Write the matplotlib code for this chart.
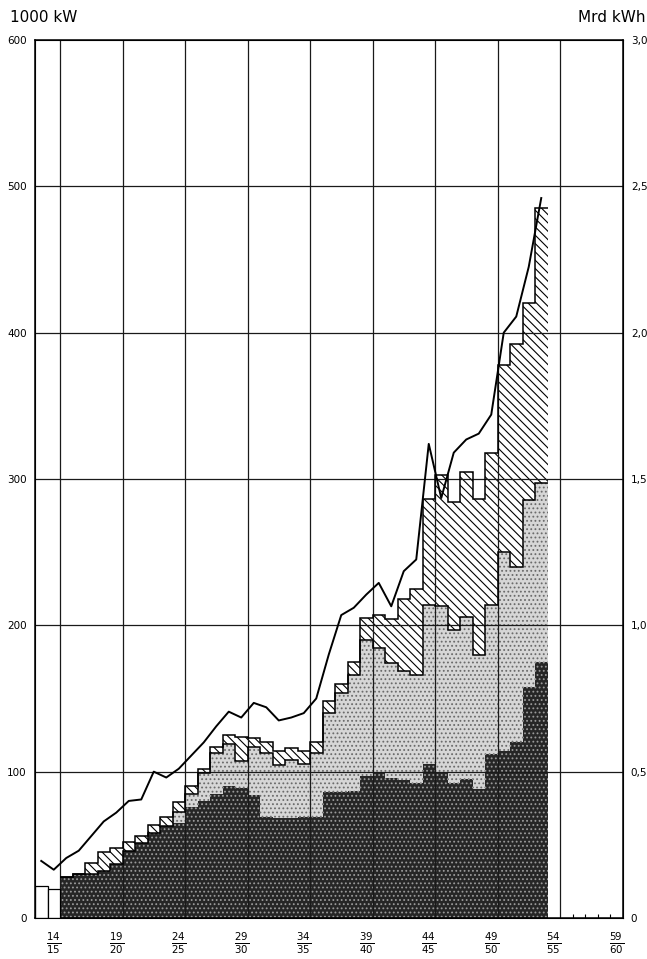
import matplotlib

matplotlib.use("Agg")
import matplotlib.pyplot as plt
import numpy as np

# installed capacity (1000 kW), cumulative tops of the three layers, per year 1915/16 .. 1953/54
years = np.arange(1915, 1954)
dark_top = [28, 30, 30, 32, 37, 46, 51, 58, 63, 65, 76, 80, 85, 90, 89, 84, 69, 68, 68, 69,
            69, 86, 86, 87, 97, 99, 96, 94, 92, 105, 99, 92, 95, 88, 112, 114, 120, 158, 175]
light_top = [28, 30, 30, 32, 37, 46, 51, 58, 63, 72.5, 85, 99, 112.5, 119, 107, 117, 112.5, 104.5,
             108, 105.5, 112.5, 140, 153.5, 166, 190, 184.5, 174.5, 168.5, 166, 214, 213, 197, 206,
             180, 214, 250, 240, 285.5, 297]
total_top = [28, 30, 37.5, 45, 48, 52, 56, 63.5, 69, 79, 90, 102, 117, 125, 124, 123, 120, 114,
             116, 114, 120, 148, 160, 175, 205, 207, 204, 218, 225, 286, 303, 284, 305, 286, 318,
             378, 392, 420, 485]

# first two years, not split up
early_years = [1913, 1914]
early_total = [22, 20]

# generation (Mrd kWh), 1913/14 .. 1953/54
line_years = np.arange(1913, 1954)
line_mrd_kwh = [0.195, 0.165, 0.205, 0.23, 0.28, 0.33, 0.36, 0.40, 0.405, 0.50, 0.48, 0.51,
                0.555, 0.60, 0.655, 0.705, 0.685, 0.735, 0.72, 0.675, 0.685, 0.70, 0.75, 0.90,
                1.035, 1.06, 1.105, 1.145, 1.065, 1.185, 1.225, 1.62, 1.435, 1.59, 1.635, 1.655,
                1.72, 2.00, 2.055, 2.225, 2.46]

x_labels = [(14, 15), (19, 20), (24, 25), (29, 30), (34, 35), (39, 40), (44, 45), (49, 50),
            (54, 55), (59, 60)]
left_ticks = [0, 100, 200, 300, 400, 500, 600]
right_ticks = [0, 0.5, 1.0, 1.5, 2.0, 2.5, 3.0]

plt.rcParams["font.family"] = "DejaVu Sans"
plt.rcParams["mathtext.fontset"] = "dejavusans"
plt.rcParams["hatch.linewidth"] = 0.8

W, H = 647, 959
fig = plt.figure(figsize=(W / 100, H / 100), dpi=100)
ax = fig.add_axes([35 / W, 1 - 918 / H, (622.5 - 35) / W, (918 - 40) / H])

edges = np.append(years, years[-1] + 1)


def step(v):
    return np.append(v, v[-1])


ax.fill_between(edges, 0, step(dark_top), step="post", facecolor="#262626",
                edgecolor="#9a9a9a", hatch="....", linewidth=0, zorder=1)
ax.fill_between(edges, step(dark_top), step(light_top), step="post", facecolor="#d6d6d6",
                edgecolor="#6a6a6a", hatch="....", linewidth=0, zorder=1)
ax.fill_between(edges, step(light_top), step(total_top), step="post", facecolor="white",
                edgecolor="black", hatch="\\\\\\\\", linewidth=0, zorder=1)
ax.stairs(total_top, edges, baseline=None, color="black", lw=1.1, zorder=3)
ax.stairs(light_top, edges, baseline=None, color="black", lw=1.1, zorder=3)

ax.bar(early_years, early_total, width=1, align="edge", facecolor="white",
       edgecolor="black", lw=0.9, zorder=3)

for x in range(1915, 1960, 5):
    ax.axvline(x, color="#1a1a1a", lw=0.9, zorder=2)
for y in left_ticks[1:-1]:
    ax.axhline(y, color="#1a1a1a", lw=0.9, zorder=2)

ax.set_xlim(1913, 1960)
ax.set_ylim(0, 600)
ax.set_xticks([a + 1900.5 for a, _ in x_labels])
ax.set_xticklabels([rf"$\frac{{{a}}}{{{b}}}$" for a, b in x_labels], fontsize=10.5)
ax.set_xticks([1956, 1957, 1958, 1959], minor=True)
ax.tick_params(axis="x", which="major", length=0, pad=9)
ax.tick_params(axis="x", which="minor", direction="in", length=3, width=0.8)
ax.set_yticks(left_ticks)
ax.set_yticklabels([str(t) for t in left_ticks], fontsize=7.5)
ax.tick_params(axis="y", length=0, pad=6)
for s in ax.spines.values():
    s.set_linewidth(1.1)

ax2 = ax.twinx()
ax2.plot(line_years + 0.5, line_mrd_kwh, color="black", lw=1.4, zorder=4)
ax2.set_ylim(0, 3)
ax2.set_yticks(right_ticks)
ax2.set_yticklabels([f"{t:.1f}".replace(".", ",") if t else "0" for t in right_ticks],
                    fontsize=7.5)
ax2.tick_params(axis="y", length=0, pad=6)

fig.text(10 / W, 1 - 17 / H, "1000 kW", fontsize=11, ha="left", va="center")
fig.text(646 / W, 1 - 17 / H, "Mrd kWh", fontsize=11, ha="right", va="center")

fig.savefig("out.png", dpi=100)
